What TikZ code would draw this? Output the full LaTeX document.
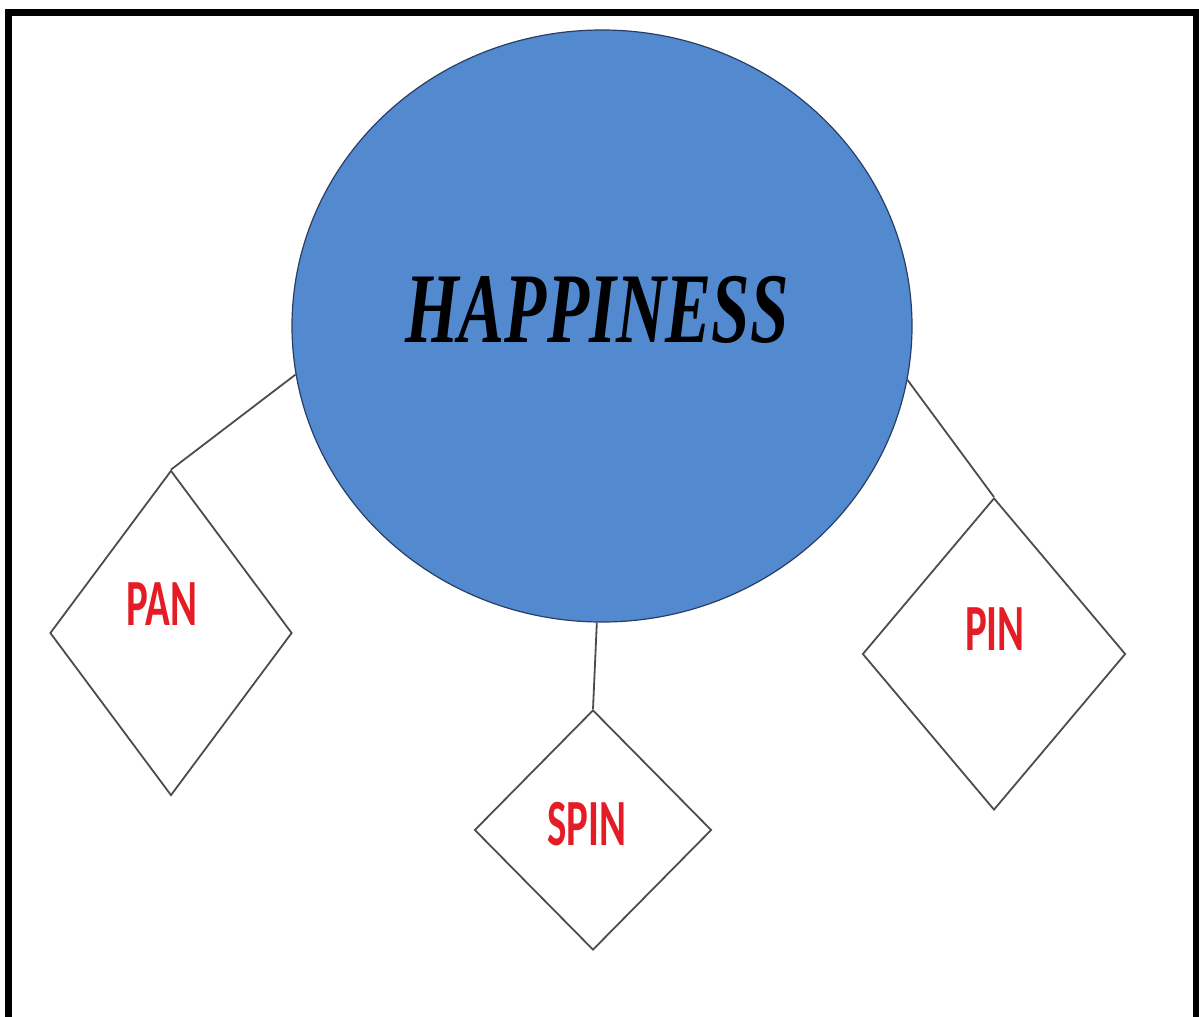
\documentclass[tikz,border=0pt]{standalone}
\usepackage{fontspec}
\usetikzlibrary{shapes.geometric,positioning}
\newfontfamily\lblfont{Carlito}
\newfontfamily\hapfont{Liberation Serif}
\definecolor{hapblue}{RGB}{82,137,207}
\definecolor{hapedge}{RGB}{40,62,100}
\definecolor{lblred}{RGB}{228,28,38}
\tikzset{
  blob/.style={ellipse,draw=hapedge,line width=1.2pt,fill=hapblue,inner sep=0pt},
  dia/.style ={diamond,draw=black!70,line width=1.8pt,inner sep=0pt},
  lnk/.style ={draw=black!70,line width=1.8pt},
  lbl/.style ={anchor=base,text=lblred,inner sep=0pt,font=\lblfont\bfseries\fontsize{66}{66}\selectfont},
}
\begin{document}
\begin{tikzpicture}[x=1pt,y=-1pt]
  \useasboundingbox (0,0) rectangle (1199,1017);
  \draw[line width=7pt] (8.5,12.5) rectangle (1196,1024);
  % centre
  \node[blob,minimum width=620pt,minimum height=592pt] (hap) at (602,326) {};
  \node[anchor=base,inner sep=0pt,font=\hapfont\bfseries\itshape\fontsize{100}{100}\selectfont] (haptxt) at (597,342)
    {\scalebox{0.69}[1]{HAPPINESS}};
  % the three diamonds
  \node[dia,minimum width=242pt,minimum height=325pt] (pan) at (171,633) {};
  \node[dia,minimum width=237pt,minimum height=240pt] (spin) at (593,830) {};
  \node[dia,minimum width=263pt,minimum height=312pt] (pin) at (994,654) {};
  \node[lbl] (pantxt) at (162,625) {\scalebox{0.62}[1]{PAN}};
  \node[lbl] (spintxt) at (587,845) {\scalebox{0.62}[1]{SPIN}};
  \node[lbl] (pintxt) at (995,650) {\scalebox{0.62}[1]{PIN}};
  % links
  \path[lnk] (hap.189) -- (pan.north);
  \path[lnk] (hap.269) -- (spin.north);
  \path[lnk] (hap.350) -- (pin.north);
\end{tikzpicture}
\end{document}
